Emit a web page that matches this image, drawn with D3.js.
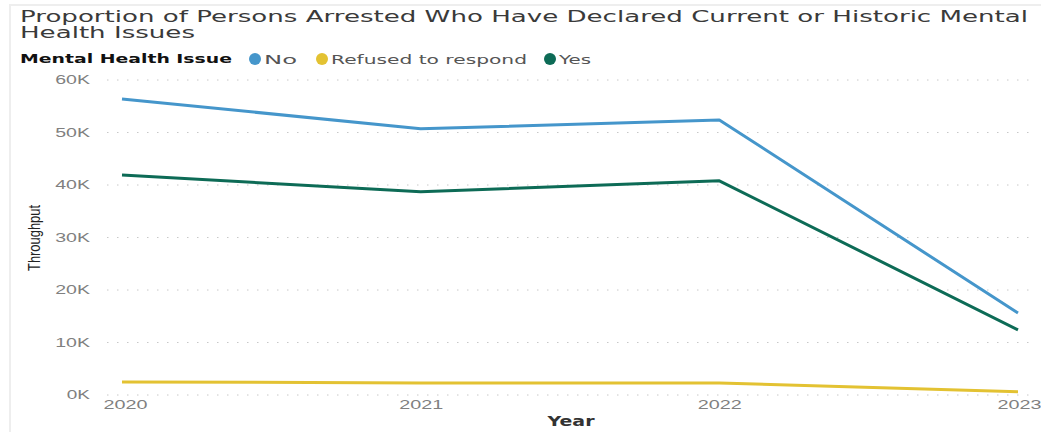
<!DOCTYPE html>
<html>
<head>
<meta charset="utf-8">
<script src="https://cdn.jsdelivr.net/npm/d3@7"></script>
<style>
  body { margin: 0; background: #fff; }
  svg { display: block; font-family: "DejaVu Sans", sans-serif; }
</style>
</head>
<body>
<div id="chart"></div>
<script>
// data
const years = ["2020", "2021", "2022", "2023"];
const noValues = [56400, 50700, 52400, 15600];
const refusedValues = [2500, 2300, 2300, 600];
const yesValues = [41900, 38700, 40800, 12400];
const yTicks = [0, 10000, 20000, 30000, 40000, 50000, 60000];
const seriesNames = ["No", "Refused to respond", "Yes"];

let width = 1041;
let height = 432;

let series = [
  { name: seriesNames[0], values: noValues, color: "#4596cb" },
  { name: seriesNames[1], values: refusedValues, color: "#e3c232" },
  { name: seriesNames[2], values: yesValues, color: "#0d6b56" }
];

let svg = d3.select("#chart").append("svg")
  .attr("width", width)
  .attr("height", height);

// faint frame
svg.append("path")
  .attr("d", "M10,432 V5 H1041")
  .attr("fill", "none")
  .attr("stroke", "#eeeeee")
  .attr("stroke-width", 2);

let xScale = d3.scalePoint()
  .domain(years)
  .range([122, 1018]);

let yScale = d3.scaleLinear()
  .domain([0, 60000])
  .range([395, 80]);

// gridlines
svg.append("g")
  .selectAll("line")
  .data(yTicks)
  .enter()
  .append("line")
  .attr("x1", 107)
  .attr("x2", 1033)
  .attr("y1", d => yScale(d))
  .attr("y2", d => yScale(d))
  .attr("stroke", "#c8c8c8")
  .attr("stroke-dasharray", "1.5,8.5");

// y axis
let yAxis = d3.axisLeft(yScale)
  .tickValues(yTicks)
  .tickFormat(d => (d / 1000) + "K")
  .tickSize(0)
  .tickPadding(0);

let gy = svg.append("g")
  .attr("transform", "translate(90,0)")
  .call(yAxis);
gy.select(".domain").remove();
gy.selectAll("text")
  .attr("fill", "#808080")
  .attr("dy", "0.3em")
  .style("font-size", "12px")
  .attr("textLength", d => (d / 1000 + "K").length * 11.6)
  .attr("lengthAdjust", "spacingAndGlyphs");

// x axis
let xAxis = d3.axisBottom(xScale)
  .tickSize(0)
  .tickPadding(0);

let gx = svg.append("g")
  .attr("transform", "translate(0,400)")
  .call(xAxis);
gx.select(".domain").remove();
gx.selectAll("text")
  .attr("fill", "#808080")
  .attr("dy", "0.75em")
  .style("font-size", "12px")
  .attr("textLength", 44)
  .attr("lengthAdjust", "spacingAndGlyphs");
gx.selectAll(".tick text").filter((d, i) => i == 0).attr("dx", 3);
gx.selectAll(".tick text").filter((d, i) => i == years.length - 1).attr("dx", 1);

// lines
let line = d3.line()
  .x((d, i) => xScale(years[i]))
  .y(d => yScale(d));

svg.append("g")
  .selectAll("path")
  .data(series)
  .enter()
  .append("path")
  .attr("d", d => line(d.values))
  .attr("fill", "none")
  .attr("stroke", d => d.color)
  .attr("stroke-width", 3)
  .attr("stroke-linejoin", "round");

// title
let title = svg.append("g")
  .attr("fill", "#3a3a3a")
  .style("font-size", "15.5px");
title.append("text")
  .attr("x", 20)
  .attr("y", 22)
  .attr("textLength", 1008)
  .attr("lengthAdjust", "spacingAndGlyphs")
  .text("Proportion of Persons Arrested Who Have Declared Current or Historic Mental");
title.append("text")
  .attr("x", 20)
  .attr("y", 37.5)
  .attr("textLength", 175)
  .attr("lengthAdjust", "spacingAndGlyphs")
  .text("Health Issues");

// legend
let legend = svg.append("g")
  .style("font-size", "13px");
legend.append("text")
  .attr("x", 20)
  .attr("y", 63)
  .attr("font-weight", "bold")
  .attr("fill", "#111111")
  .attr("textLength", 212)
  .attr("lengthAdjust", "spacingAndGlyphs")
  .text("Mental Health Issue");

let legendX = [255, 322, 550];
let legendW = [33, 196, 32];
let items = legend.selectAll("g.item")
  .data(series)
  .enter()
  .append("g")
  .attr("class", "item")
  .attr("transform", (d, i) => `translate(${legendX[i]},59)`);
items.append("circle")
  .attr("r", 6)
  .attr("fill", d => d.color);
items.append("text")
  .attr("x", 9)
  .attr("y", 4.5)
  .attr("fill", "#555555")
  .attr("textLength", (d, i) => legendW[i])
  .attr("lengthAdjust", "spacingAndGlyphs")
  .text(d => d.name);

// axis titles
svg.append("text")
  .attr("transform", "translate(40,238) rotate(-90)")
  .attr("text-anchor", "middle")
  .attr("fill", "#222222")
  .style("font-size", "17px")
  .style("font-family", "'Liberation Sans Narrow', 'Liberation Sans', sans-serif")
  .attr("textLength", 66)
  .attr("lengthAdjust", "spacingAndGlyphs")
  .text("Throughput");

svg.append("text")
  .attr("x", 571)
  .attr("y", 426)
  .attr("text-anchor", "middle")
  .attr("fill", "#333333")
  .attr("font-weight", "bold")
  .style("font-size", "14px")
  .attr("textLength", 47)
  .attr("lengthAdjust", "spacingAndGlyphs")
  .text("Year");
</script>
</body>
</html>
